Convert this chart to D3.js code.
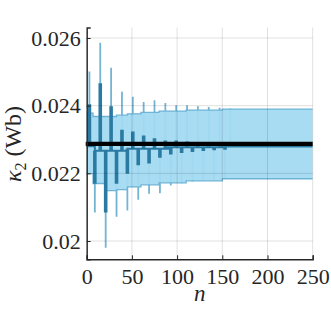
<!DOCTYPE html>
<html>
<head>
<meta charset="utf-8">
<script src="https://cdn.jsdelivr.net/npm/d3@7"></script>
<style>
  body { margin: 0; background: #fff; }
</style>
</head>
<body>
<svg id="chart"></svg>
<script>
// band (confidence region), stepped
var bandN     = [0, 7, 20, 33, 45, 60, 80, 110, 150, 250];
var bandUpper = [0.02378, 0.02368, 0.02368, 0.02372, 0.02376, 0.02380, 0.02384, 0.02387, 0.02390, 0.02390];
var bandLower = [0.02199, 0.02170, 0.02149, 0.02152, 0.02160, 0.02166, 0.02172, 0.02178, 0.02184, 0.02184];

// estimate, stepped
var estN = [0, 9, 45, 90, 150, 250];
var estV = [0.02280, 0.02267, 0.02273, 0.02277, 0.02279, 0.02279];

// true value
var trueValue = 0.02287;

// upward excursions
var upN     = [3, 15, 27, 39, 51, 63, 75, 87, 99, 111, 123, 135, 147, 159];
var upThin  = [0.02501, 0.02586, 0.02512, 0.02441, 0.02426, 0.02411, 0.02416, 0.02408, 0.02401, 0.02401, 0.02398, 0.02396, 0.02394, 0.02392];
var upThick = [0.02404, 0.02466, 0.02398, 0.02329, 0.02324, 0.02312, 0.02304, 0.02297, 0.02297, 0.02294, 0.02292, 0.02291, 0.02290, 0.02289];

// downward excursions
var downN     = [9, 21, 33, 45, 57, 69, 81, 93, 105, 117, 129, 141, 153];
var downThin  = [0.02084, 0.01980, 0.02072, 0.02090, 0.02122, 0.02140, 0.02141, 0.02164, 0.02171, 0.02176, 0.02179, 0.02181, 0.02183];
var downThick = [0.02169, 0.02084, 0.02169, 0.02199, 0.02224, 0.02229, 0.02246, 0.02256, 0.02260, 0.02263, 0.02266, 0.02268, 0.02270];

var xTicks = [0, 50, 100, 150, 200, 250];
var yTicks = [0.02, 0.022, 0.024, 0.026];

var FONT = "Liberation Serif";

var W = 331, H = 314;
var margin = { top: 27.5, right: 18.3, bottom: 54.7, left: 86.7 },
    width = W - margin.left - margin.right,
    height = H - margin.top - margin.bottom;

var svg = d3.select("#chart").attr("width", W).attr("height", H);
var g = svg.append("g").attr("transform", "translate(" + margin.left + "," + margin.top + ")");

var x = d3.scaleLinear().domain([0, 250]).range([0, width]);
var y = d3.scaleLinear().domain([0.01946, 0.02631]).range([height, 0]);

g.append("defs").append("clipPath").attr("id", "clip")
  .append("rect").attr("x", -2).attr("y", 0).attr("width", width + 2).attr("height", height);

var plot = g.append("g").attr("clip-path", "url(#clip)");

function estAt(n) {
  var i = d3.bisectRight(estN, n) - 1;
  return estV[Math.max(0, i)];
}

var thinColor = "#74b4d3", thickColor = "#2b7aa2";

// thin excursions (under the translucent band)
upN.forEach(function (n, i) {
  plot.append("line").attr("x1", x(n)).attr("x2", x(n))
    .attr("y1", y(upThin[i])).attr("y2", y(estAt(n)))
    .attr("stroke", thinColor).attr("stroke-width", 1.8);
});
downN.forEach(function (n, i) {
  plot.append("line").attr("x1", x(n)).attr("x2", x(n))
    .attr("y1", y(downThin[i])).attr("y2", y(estAt(n)))
    .attr("stroke", thinColor).attr("stroke-width", 1.8);
});

// band fill
var band = bandN.map(function (n, i) { return [n, bandLower[i], bandUpper[i]]; });
plot.append("path")
  .datum(band)
  .attr("fill", "rgb(162,218,242)")
  .attr("fill-opacity", 0.94)
  .attr("d", d3.area().curve(d3.curveStepAfter)
    .x(function (d) { return x(d[0]); })
    .y0(function (d) { return y(d[1]); })
    .y1(function (d) { return y(d[2]); }));

[1, 2].forEach(function (k) {
  plot.append("path")
    .datum(band)
    .attr("fill", "none")
    .attr("stroke", "#6fb4d6")
    .attr("stroke-width", 1.3)
    .attr("d", d3.line().curve(d3.curveStepAfter)
      .x(function (d) { return x(d[0]); })
      .y(function (d) { return y(d[k]); }));
});

// grid (over the band, translucent)
var grid = g.append("g");
xTicks.forEach(function (t) {
  grid.append("line").attr("x1", x(t)).attr("x2", x(t)).attr("y1", 0).attr("y2", height)
    .attr("stroke", "#000").attr("stroke-opacity", 0.12).attr("stroke-width", 1);
});
yTicks.forEach(function (t) {
  grid.append("line").attr("x1", 0).attr("x2", width).attr("y1", y(t)).attr("y2", y(t))
    .attr("stroke", "#000").attr("stroke-opacity", 0.12).attr("stroke-width", 1);
});

// thick excursions
upN.forEach(function (n, i) {
  plot.append("line").attr("x1", x(n)).attr("x2", x(n))
    .attr("y1", y(upThick[i])).attr("y2", y(estAt(n)))
    .attr("stroke", thickColor).attr("stroke-width", 3.6);
});
downN.forEach(function (n, i) {
  plot.append("line").attr("x1", x(n)).attr("x2", x(n))
    .attr("y1", y(downThick[i])).attr("y2", y(estAt(n)))
    .attr("stroke", thickColor).attr("stroke-width", 3.6);
});

// estimate line
plot.append("path")
  .datum(estN.map(function (n, i) { return [n, estV[i]]; }))
  .attr("fill", "none")
  .attr("stroke", thickColor)
  .attr("stroke-width", 2)
  .attr("d", d3.line().curve(d3.curveStepAfter)
    .x(function (d) { return x(d[0]); })
    .y(function (d) { return y(d[1]); }));

// true value
g.append("line")
  .attr("x1", -1).attr("x2", width)
  .attr("y1", y(trueValue)).attr("y2", y(trueValue))
  .attr("stroke", "#000").attr("stroke-width", 4.4);

// axes
var xAxis = g.append("g").attr("transform", "translate(0," + height + ")")
  .call(d3.axisBottom(x).tickValues(xTicks).tickSize(-4).tickPadding(9).tickFormat(d3.format("d")));
var yAxis = g.append("g")
  .call(d3.axisLeft(y).tickValues(yTicks).tickSize(-4).tickPadding(6).tickFormat(function (d) { return String(+d.toFixed(3)); }));

[xAxis, yAxis].forEach(function (a) {
  a.attr("font-family", FONT).attr("font-size", 22);
  a.select(".domain").attr("stroke", "#262626").attr("stroke-width", 1.4);
  a.selectAll(".tick line").attr("stroke", "#262626").attr("stroke-width", 1);
  a.selectAll("text").attr("fill", "#262626");
});

// labels
g.append("text")
  .attr("x", width / 2).attr("y", height + 42)
  .attr("text-anchor", "middle")
  .attr("font-family", FONT)
  .attr("font-size", 23)
  .attr("font-style", "italic")
  .attr("fill", "#262626")
  .text("n");

var yl = svg.append("text")
  .attr("transform", "translate(21,144) rotate(-90)")
  .attr("text-anchor", "middle")
  .attr("font-family", FONT)
  .attr("fill", "#262626")
  .attr("font-size", 24);
yl.append("tspan").attr("font-style", "italic").text("κ");
yl.append("tspan").attr("font-size", 16).attr("dy", 5).text("2");
yl.append("tspan").attr("dy", -5).text(" (Wb)");
</script>
</body>
</html>
